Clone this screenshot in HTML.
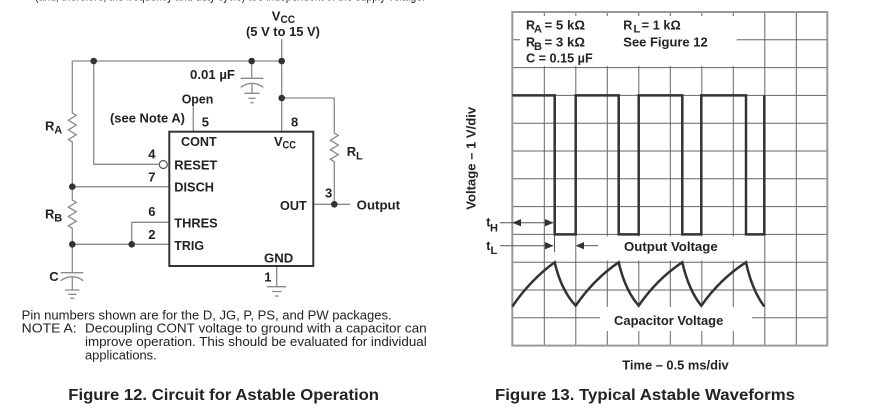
<!DOCTYPE html>
<html><head><meta charset="utf-8"><style>
html,body{margin:0;padding:0;background:#fff;}
svg{display:block;}
text{font-family:"Liberation Sans",Arial,sans-serif;fill:#222;}
.b{font-weight:bold;}
.c{font-weight:bold;font-size:13px;}
.s{font-weight:bold;font-size:11px;}
.g{font-weight:bold;font-size:12.5px;}
.n{font-size:12.5px;}
</style></head><body>
<svg width="881" height="415" viewBox="0 0 881 415" xmlns="http://www.w3.org/2000/svg">
<rect width="881" height="415" fill="#fff"/>
<!-- cut-off top line -->
<text x="35" y="0.5" class="n" fill="#444" textLength="390" lengthAdjust="spacingAndGlyphs">(and, therefore, the frequency and duty cycle) are independent of the supply voltage.</text>

<!-- ============ CIRCUIT ============ -->
<g stroke="#8a8a8a" stroke-width="1.3" fill="none">
  <path d="M281.7 39 V131.7"/>
  <path d="M72.3 61 H281.7"/>
  <path d="M72.3 61 V113 L76.3 115.4 L68.3 120.2 L76.3 125.1 L68.3 129.9 L76.3 134.7 L68.3 139.6 L72.3 142 V200 L76.3 202.4 L68.3 207.1 L76.3 211.8 L68.3 216.5 L76.3 221.2 L68.3 225.9 L72.3 228.3 V272.7"/>
  <path d="M93.7 61 V164.3 H159.3"/>
  <path d="M251.7 61 V78.3"/>
  <path d="M240.7 78.3 H263.3"/>
  <path d="M240.7 87.3 Q252 79.3 263.3 87.3"/>
  <path d="M252 83.3 V93.3"/>
  <path d="M244.5 93.3 H259.5 M248.5 98.3 H255.5 M250.5 102.7 H253.5"/>
  <path d="M281.7 98 H334.3 V133 L338.3 135.4 L330.3 140.2 L338.3 145 L330.3 149.8 L338.3 154.6 L330.3 159.3 L334.3 161.7 V204.3"/>
  <path d="M193.3 105 V131.7"/>
  <path d="M72.3 186.7 H169.3"/>
  <path d="M72.3 244.3 H169.3"/>
  <path d="M131.7 244.3 V222.3 H169.3"/>
  <path d="M60.7 272.7 H83.3"/>
  <path d="M60.7 280.7 Q72 272.7 83.3 280.7"/>
  <path d="M72.3 276.7 V290"/>
  <path d="M65 290 H79.5 M68.3 294.3 H76.3 M70.3 298.3 H74.3"/>
  <path d="M276.7 266 V286.7"/>
  <path d="M267 286.7 H286 M272 291.5 H281.5 M274.7 296 H278.7"/>
  <path d="M313.3 204.3 H350"/>
</g>
<g fill="#333">
  <circle cx="93.7" cy="61" r="3.3"/>
  <circle cx="251.7" cy="61" r="3.3"/>
  <circle cx="281.7" cy="61" r="3.3"/>
  <circle cx="281.7" cy="98" r="3.3"/>
  <circle cx="72.3" cy="186.7" r="3.3"/>
  <circle cx="72.3" cy="244.3" r="3.3"/>
  <circle cx="131.7" cy="244.3" r="3.3"/>
  <circle cx="334.3" cy="204.3" r="3.3"/>
</g>
<circle cx="163.3" cy="164.5" r="4" fill="#fff" stroke="#555" stroke-width="1.2"/>
<rect x="169.3" y="131.7" width="144" height="134.3" fill="none" stroke="#333" stroke-width="2"/>

<text x="271.7" y="20.5" class="c">V</text>
<text x="280.5" y="23" class="s" textLength="14.5" lengthAdjust="spacingAndGlyphs">CC</text>
<text x="246" y="36" class="c" textLength="74" lengthAdjust="spacingAndGlyphs">(5 V to 15 V)</text>
<text x="190" y="79" class="c" textLength="45" lengthAdjust="spacingAndGlyphs">0.01 µF</text>
<text x="181.7" y="103.5" class="c" textLength="31.6" lengthAdjust="spacingAndGlyphs">Open</text>
<text x="110" y="122.5" class="c" textLength="75" lengthAdjust="spacingAndGlyphs">(see Note A)</text>
<text x="201.7" y="126.7" class="c">5</text>
<text x="291" y="126.7" class="c">8</text>
<text x="181" y="146" class="c" textLength="35.7" lengthAdjust="spacingAndGlyphs">CONT</text>
<text x="274" y="146" class="c">V</text>
<text x="282.5" y="148.5" class="s" textLength="13.5" lengthAdjust="spacingAndGlyphs">CC</text>
<text x="148.3" y="158.3" class="c">4</text>
<text x="174.3" y="169.3" class="c" textLength="43" lengthAdjust="spacingAndGlyphs">RESET</text>
<text x="148.3" y="181.7" class="c">7</text>
<text x="174.3" y="191.7" class="c" textLength="39.7" lengthAdjust="spacingAndGlyphs">DISCH</text>
<text x="148.3" y="216" class="c">6</text>
<text x="174.3" y="227.3" class="c" textLength="43.4" lengthAdjust="spacingAndGlyphs">THRES</text>
<text x="148.3" y="239" class="c">2</text>
<text x="174.3" y="250" class="c" textLength="29.7" lengthAdjust="spacingAndGlyphs">TRIG</text>
<text x="325" y="197.3" class="c">3</text>
<text x="280" y="210" class="c" textLength="26.7" lengthAdjust="spacingAndGlyphs">OUT</text>
<text x="356.7" y="209.5" class="c" textLength="43.3" lengthAdjust="spacingAndGlyphs">Output</text>
<text x="346.7" y="156" class="c">R</text>
<text x="356" y="159.5" class="s">L</text>
<text x="45" y="130.7" class="c">R</text>
<text x="54.3" y="133.5" class="s">A</text>
<text x="45" y="218.3" class="c">R</text>
<text x="54.3" y="221.3" class="s">B</text>
<text x="264" y="262.7" class="c" textLength="29.3" lengthAdjust="spacingAndGlyphs">GND</text>
<text x="264.3" y="281.7" class="c">1</text>
<text x="49.3" y="281" class="c">C</text>

<text x="21.7" y="319.3" class="n" textLength="370" lengthAdjust="spacingAndGlyphs">Pin numbers shown are for the D, JG, P, PS, and PW packages.</text>
<text x="21.7" y="332.7" class="n" textLength="55" lengthAdjust="spacingAndGlyphs">NOTE A:</text>
<text x="85" y="332.7" class="n" textLength="341.7" lengthAdjust="spacingAndGlyphs">Decoupling CONT voltage to ground with a capacitor can</text>
<text x="85" y="346" class="n" textLength="341.7" lengthAdjust="spacingAndGlyphs">improve operation. This should be evaluated for individual</text>
<text x="85" y="359.3" class="n" textLength="71.7" lengthAdjust="spacingAndGlyphs">applications.</text>
<text x="68.3" y="400" class="b" font-size="16" textLength="310.7" lengthAdjust="spacingAndGlyphs">Figure 12. Circuit for Astable Operation</text>

<!-- ============ WAVEFORM GRAPH ============ -->
<g stroke="#666" stroke-width="1">
  <path d="M544.3 12 V345.6 M575.8 12 V345.6 M607.3 12 V345.6 M638.8 12 V345.6 M670.3 12 V345.6 M701.8 12 V345.6 M733.3 12 V345.6 M764.8 12 V345.6 M796.3 12 V345.6"/>
  <path d="M512.3 39.8 H827.3 M512.3 67.6 H827.3 M512.3 95.4 H827.3 M512.3 123.2 H827.3 M512.3 151 H827.3 M512.3 178.8 H827.3 M512.3 206.6 H827.3 M512.3 234.4 H827.3 M512.3 262.2 H827.3 M512.3 290 H827.3 M512.3 317.8 H827.3"/>
</g>
<!-- label cut-outs -->
<rect x="520" y="16" width="216.7" height="50" fill="#fff"/>
<rect x="599" y="236.5" width="146" height="24" fill="#fff"/>
<rect x="600" y="307" width="152" height="24" fill="#fff"/>
<rect x="512.3" y="12" width="315" height="333.6" fill="none" stroke="#999" stroke-width="2"/>

<text x="526" y="29.3" class="g">R</text>
<text x="534" y="32.5" class="s" font-size="10">A</text>
<text x="544.5" y="29.3" class="g" textLength="40.5" lengthAdjust="spacingAndGlyphs">= 5 kΩ</text>
<text x="526" y="46.7" class="g">R</text>
<text x="534" y="50" class="s" font-size="10">B</text>
<text x="544.5" y="46.7" class="g" textLength="40.5" lengthAdjust="spacingAndGlyphs">= 3 kΩ</text>
<text x="526" y="62.7" class="g" textLength="66.7" lengthAdjust="spacingAndGlyphs">C = 0.15 µF</text>
<text x="623.3" y="29.3" class="g">R</text>
<text x="633.5" y="32.5" class="s" font-size="10">L</text>
<text x="641.7" y="29.3" class="g" textLength="39" lengthAdjust="spacingAndGlyphs">= 1 kΩ</text>
<text x="623.3" y="46.7" class="g" textLength="84.4" lengthAdjust="spacingAndGlyphs">See Figure 12</text>

<!-- waves -->
<path d="M512.3 95.4 H554.7 V234.4 H575.7 V95.4 H618.7 V234.4 H638.7 V95.4 H682.3 V234.4 H701.3 V95.4 H746 V234.4 H764.3 V95.4" fill="none" stroke="#333" stroke-width="2.5"/>
<path d="M512.3 306.5 Q530.6 279.8 554.7 262.3 Q561 290 575.7 305.7 Q594 279 618.7 262.3 Q625 290 638.7 305.7 Q657 279 682.3 262.3 Q688.6 290 701.3 305.7 Q720 279 746 262.3 Q752 290 764.3 306.5" fill="none" stroke="#333" stroke-width="2.5"/>

<!-- tH / tL markers -->
<g stroke="#555" stroke-width="1" fill="none">
  <path d="M554.5 234.4 V252"/>
  <path d="M500 222.7 H553"/>
  <path d="M500 245.7 H553"/>
  <path d="M583 245.7 H598.3"/>
</g>
<g fill="#333">
  <polygon points="512.3,222.7 521,219 521,226.4"/>
  <polygon points="553.5,222.7 545,219 545,226.4"/>
  <polygon points="553.5,245.7 545,242 545,249.4"/>
  <polygon points="575.7,245.7 584,242 584,249.4"/>
</g>
<text x="486.3" y="226.5" class="g">t</text>
<text x="490" y="231.5" class="s" font-size="10">H</text>
<text x="486.3" y="250" class="g">t</text>
<text x="490.5" y="254" class="s" font-size="10">L</text>

<text x="624" y="251" class="b" font-size="13" textLength="93.7" lengthAdjust="spacingAndGlyphs">Output Voltage</text>
<text x="614" y="325" class="b" font-size="13" textLength="109.3" lengthAdjust="spacingAndGlyphs">Capacitor Voltage</text>
<text x="622.3" y="369.5" class="b" font-size="13" textLength="106.4" lengthAdjust="spacingAndGlyphs">Time – 0.5 ms/div</text>
<text transform="translate(475.5,158.3) rotate(-90)" x="0" y="0" text-anchor="middle" class="b" font-size="13" textLength="103" lengthAdjust="spacingAndGlyphs">Voltage – 1 V/div</text>
<text x="495" y="400" class="b" font-size="16" textLength="300" lengthAdjust="spacingAndGlyphs">Figure 13. Typical Astable Waveforms</text>
</svg>
</body></html>
